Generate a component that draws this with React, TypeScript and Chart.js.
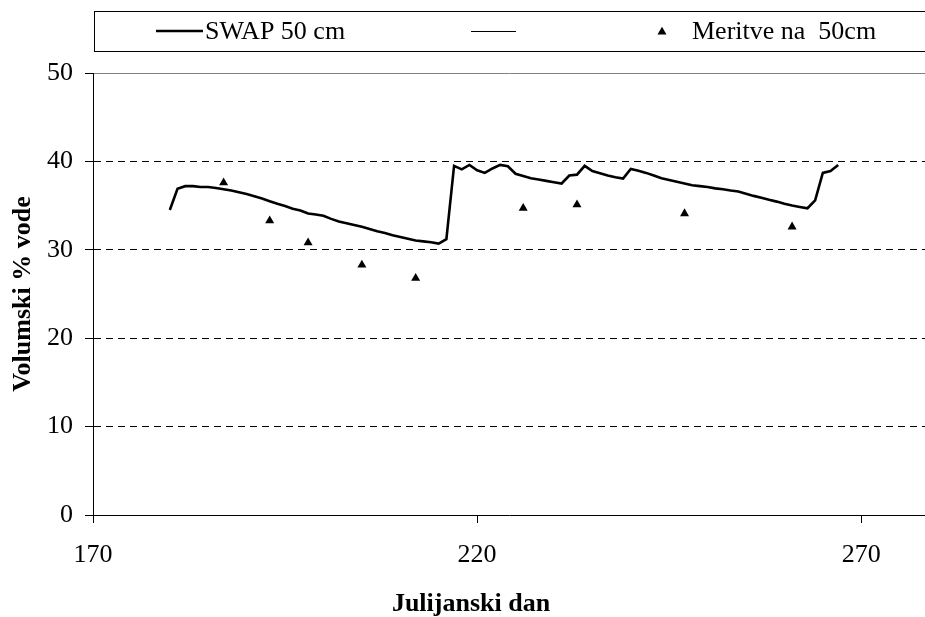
import { useEffect, useRef } from "react";
import { Chart, registerables } from "chart.js";

Chart.register(...registerables);

const SERIF = '"Liberation Serif", "Times New Roman", serif';

// SWAP simulated soil water content at 50 cm (Julian day -> volume %)
const swapDays = [
  180, 181, 182, 183, 184, 185, 186, 187, 188, 189, 190, 191, 192, 193, 194, 195, 196, 197, 198, 199,
  200, 201, 202, 203, 204, 205, 206, 207, 208, 209, 210, 211, 212, 213, 214, 215, 216, 217, 218, 219,
  220, 221, 222, 223, 224, 225, 226, 227, 228, 229, 230, 231, 232, 233, 234, 235, 236, 237, 238, 239,
  240, 241, 242, 243, 244, 245, 246, 247, 248, 249, 250, 251, 252, 253, 254, 255, 256, 257, 258, 259,
  260, 261, 262, 263, 264, 265, 266, 267,
];
const swapValues = [
  34.5, 36.9, 37.2, 37.2, 37.1, 37.1, 37.0, 36.85, 36.7, 36.5, 36.3, 36.05, 35.8, 35.5, 35.2, 34.95, 34.65, 34.45, 34.1, 34.0,
  33.85, 33.5, 33.2, 33.0, 32.8, 32.6, 32.35, 32.1, 31.9, 31.65, 31.45, 31.25, 31.05, 30.95, 30.85, 30.7, 31.2, 39.5, 39.1, 39.6,
  39.0, 38.7, 39.2, 39.6, 39.45, 38.6, 38.35, 38.1, 37.95, 37.8, 37.65, 37.5, 38.4, 38.5, 39.5, 38.9, 38.65, 38.4, 38.2, 38.05,
  39.15, 38.95, 38.7, 38.4, 38.1, 37.9, 37.7, 37.5, 37.3, 37.2, 37.1, 36.95, 36.85, 36.7, 36.6, 36.35, 36.1, 35.9, 35.65, 35.45,
  35.2, 35.0, 34.85, 34.7, 35.6, 38.7, 38.9, 39.6,
];

// Field measurements at 50 cm
const measuredDays = [187, 193, 198, 205, 212, 226, 233, 247, 261];
const measuredValues = [37.6, 33.3, 30.8, 28.3, 26.8, 34.7, 35.1, 34.1, 32.6];

const seriesLabels = ["SWAP 50 cm", "", "Meritve na  50cm"];
const xTicks = [170, 220, 270];
const xMin = 170;
const xMax = 278.3;
const yMin = 0;
const yMax = 50;
const yStep = 10;
const xTitle = "Julijanski dan";
const yTitle = "Volumski % vode";

function drawTriangle(ctx: CanvasRenderingContext2D, x: number, y: number, r: number) {
  ctx.beginPath();
  ctx.moveTo(x, y - r);
  ctx.lineTo(x + 0.866 * r, y + 0.5 * r);
  ctx.lineTo(x - 0.866 * r, y + 0.5 * r);
  ctx.closePath();
  ctx.fill();
}

// Framed legend strip on top plus the two axis titles
const decorations = {
  id: "decorations",
  afterDraw(chart: any) {
    const { ctx, chartArea } = chart;
    const ds = chart.data.datasets;
    ctx.save();
    ctx.strokeStyle = "#000";
    ctx.lineWidth = 1;
    ctx.strokeRect(94.5, 11.5, 900, 40);

    const ly = 31;
    ctx.font = `26px ${SERIF}`;
    ctx.fillStyle = "#000";
    ctx.textBaseline = "middle";
    ctx.textAlign = "left";

    ctx.lineWidth = ds[0].borderWidth;
    ctx.beginPath();
    ctx.moveTo(156, ly);
    ctx.lineTo(203, ly);
    ctx.stroke();
    ctx.fillText(ds[0].label, 205, ly + 1);

    ctx.lineWidth = ds[1].borderWidth;
    ctx.beginPath();
    ctx.moveTo(471, ly + 0.5);
    ctx.lineTo(516, ly + 0.5);
    ctx.stroke();

    drawTriangle(ctx, 662, ly + 1, ds[2].pointRadius);
    ctx.fillText(ds[2].label, 692, ly + 1);

    ctx.font = `bold 26px ${SERIF}`;
    ctx.textAlign = "center";
    ctx.fillText(xTitle, 471, 604);

    ctx.translate(23, (chartArea.top + chartArea.bottom) / 2);
    ctx.rotate(-Math.PI / 2);
    ctx.fillText(yTitle, 0, 0);
    ctx.restore();
  },
};

export default function App() {
  const canvasRef = useRef<HTMLCanvasElement | null>(null);

  useEffect(() => {
    if (!canvasRef.current) return;
    const chart = new Chart(canvasRef.current, {
      type: "line",
      data: {
        datasets: [
          {
            label: seriesLabels[0],
            data: swapDays.map((d, i) => ({ x: d, y: swapValues[i] })),
            borderColor: "#000",
            borderWidth: 2.6,
            pointRadius: 0,
            tension: 0,
            fill: false,
          },
          {
            label: seriesLabels[1],
            data: [],
            borderColor: "#000",
            borderWidth: 1,
            pointRadius: 0,
          },
          {
            label: seriesLabels[2],
            data: measuredDays.map((d, i) => ({ x: d, y: measuredValues[i] })),
            showLine: false,
            pointStyle: "triangle",
            pointRadius: 5.2,
            pointBorderWidth: 0,
            backgroundColor: "#000",
            borderColor: "#000",
          },
        ],
      },
      options: {
        animation: false,
        responsive: false,
        devicePixelRatio: 1,
        layout: { autoPadding: false, padding: { top: 73, left: 0, right: 0, bottom: 0 } },
        plugins: { legend: { display: false }, tooltip: { enabled: false } },
        scales: {
          x: {
            type: "linear",
            min: xMin,
            max: xMax,
            afterBuildTicks: (scale: any) => {
              scale.ticks = xTicks.map((v) => ({ value: v }));
            },
            afterFit: (scale: any) => {
              scale.height = 102;
            },
            grid: {
              drawOnChartArea: false,
              drawTicks: true,
              tickLength: 8,
              tickColor: "#000",
              color: "#000",
            },
            border: { display: true, color: "#000", width: 1 },
            ticks: {
              color: "#000",
              padding: 17,
              maxRotation: 0,
              font: { family: SERIF, size: 26 },
            },
          },
          y: {
            type: "linear",
            min: yMin,
            max: yMax,
            ticks: {
              stepSize: yStep,
              color: "#000",
              padding: 12,
              font: { family: SERIF, size: 26 },
            },
            afterFit: (scale: any) => {
              scale.width = 93;
            },
            grid: {
              drawTicks: true,
              tickLength: 8,
              tickColor: "#000",
              color: (c: any) =>
                c.tick && c.tick.value === yMax
                  ? "#808080"
                  : c.tick && c.tick.value === yMin
                  ? "rgba(0,0,0,0)"
                  : "#000",
            },
            border: {
              display: true,
              color: "#000",
              width: 1,
              dash: (c: any) => (c.tick && c.tick.value === yMax ? [] : [7, 5]),
            },
          },
        },
      },
      plugins: [decorations],
    });
    return () => chart.destroy();
  }, []);

  return (
    <div style={{ position: "absolute", left: 0, top: 0, width: 925, height: 617, background: "#fff" }}>
      <canvas ref={canvasRef} width={925} height={617} />
    </div>
  );
}
